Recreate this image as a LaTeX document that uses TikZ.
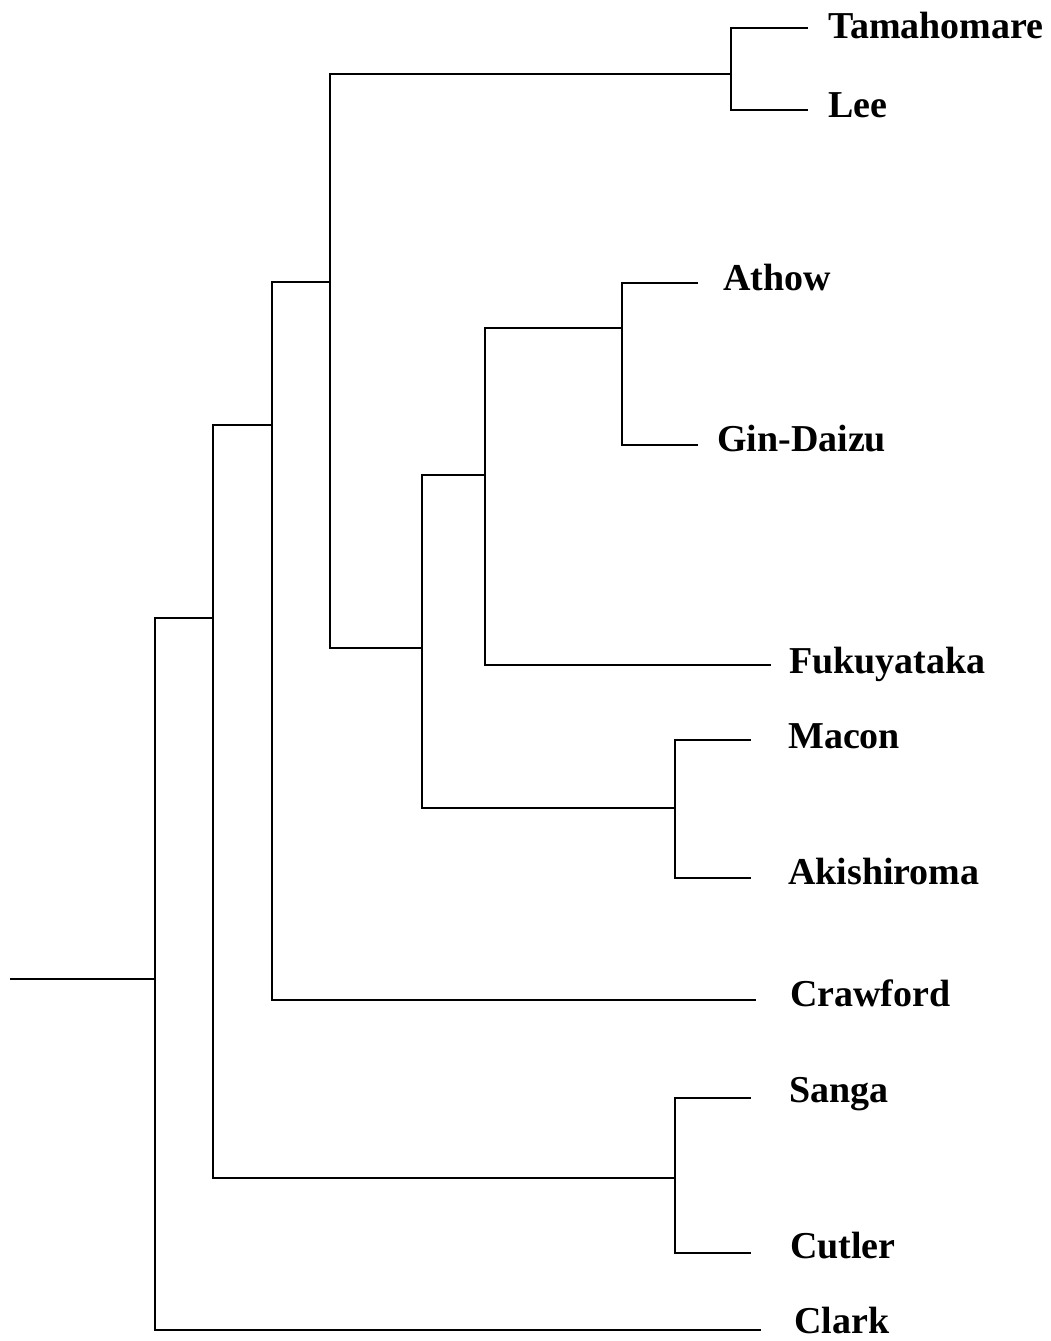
\documentclass[tikz,border=0pt]{standalone}
\usepackage{fontspec}
\setmainfont{Liberation Serif}
\begin{document}
\begin{tikzpicture}[x=1pt,y=-1pt,line width=2.4pt,
  lab/.style={anchor=base west,inner sep=0pt,font=\fontsize{38}{40}\selectfont\bfseries},
  br/.style={line cap=rect}]
\useasboundingbox (0,0) rectangle (1050,1341);
% leaf ends
\coordinate (tamE) at (807,28);
\coordinate (leeE) at (807,110);
\coordinate (athE) at (697,283);
\coordinate (ginE) at (697,445);
\coordinate (fukE) at (770,665);
\coordinate (macE) at (750,740);
\coordinate (akiE) at (750,878);
\coordinate (craE) at (755,1000);
\coordinate (sanE) at (750,1098);
\coordinate (cutE) at (750,1253);
\coordinate (claE) at (760,1330);
% internal joints
\coordinate (n1) at (731,74);
\coordinate (n2) at (622,328);
\coordinate (n3) at (485,475);
\coordinate (n4) at (675,808);
\coordinate (n5) at (422,648);
\coordinate (n6) at (330,282);
\coordinate (n7) at (272,425);
\coordinate (n8) at (675,1178);
\coordinate (n9) at (213,618);
\coordinate (n10) at (155,979);
\coordinate (root) at (11,979);
% branches
\draw[br] (root) -- (n10);
\draw[br] (n10) |- (n9);
\draw[br] (n10) |- (claE);
\draw[br] (n9) |- (n7);
\draw[br] (n9) |- (n8);
\draw[br] (n8) |- (sanE);
\draw[br] (n8) |- (cutE);
\draw[br] (n7) |- (n6);
\draw[br] (n7) |- (craE);
\draw[br] (n6) |- (n1);
\draw[br] (n6) |- (n5);
\draw[br] (n1) |- (tamE);
\draw[br] (n1) |- (leeE);
\draw[br] (n5) |- (n3);
\draw[br] (n5) |- (n4);
\draw[br] (n4) |- (macE);
\draw[br] (n4) |- (akiE);
\draw[br] (n3) |- (n2);
\draw[br] (n3) |- (fukE);
\draw[br] (n2) |- (athE);
\draw[br] (n2) |- (ginE);
% labels
\node[lab] (tam) at (827,38) {Tamahomare};
\node[lab] (lee) at (827,117) {Lee};
\node[lab] (ath) at (722,290) {Athow};
\node[lab] (gin) at (716,451) {Gin-Daizu};
\node[lab] (fuk) at (788,673) {Fukuyataka};
\node[lab] (mac) at (787,748) {Macon};
\node[lab] (aki) at (787,884) {Akishiroma};
\node[lab] (cra) at (789,1006) {Crawford};
\node[lab] (san) at (788,1102) {Sanga};
\node[lab] (cut) at (789,1258) {Cutler};
\node[lab] (cla) at (793,1333) {Clark};
\end{tikzpicture}
\end{document}
